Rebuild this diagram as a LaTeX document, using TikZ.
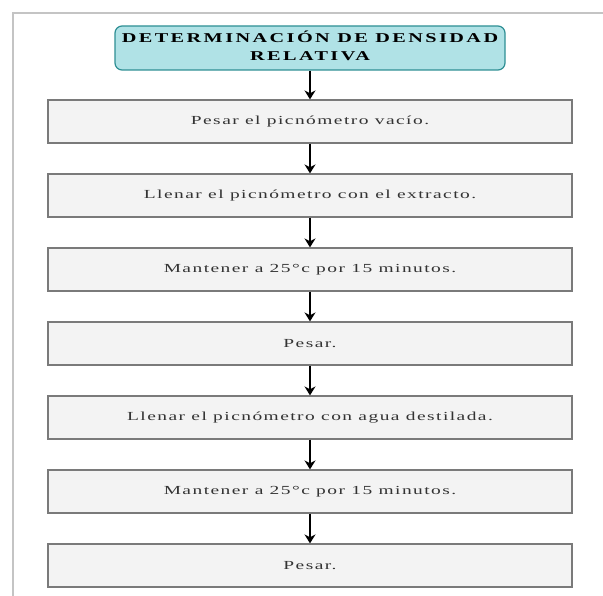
\documentclass[tikz,border=0pt]{standalone}
\usepackage{fontspec}
\usepackage{graphicx}
\setmainfont{Liberation Serif}
\newfontfamily\bodyfont[LetterSpace=7.5]{Liberation Serif}
\newfontfamily\titlefont[LetterSpace=12]{Liberation Serif}
\newcommand\widetext[2]{\scalebox{#1}[1]{#2}}
\usetikzlibrary{arrows.meta}
\definecolor{framegray}{HTML}{C4C4C4}
\definecolor{boxfill}{HTML}{F3F3F3}
\definecolor{boxline}{HTML}{7A7A7A}
\definecolor{titlefill}{HTML}{B0E2E6}
\definecolor{titleline}{HTML}{2E8F94}
\definecolor{bodytext}{HTML}{333333}
\tikzset{
  x=1pt, y=1pt,
  stepbox/.style={draw=boxline, fill=boxfill, line width=1.2pt, minimum width=524pt, minimum height=43pt, inner sep=0pt, font=\bodyfont\fontsize{12.3pt}{14pt}\selectfont, text=bodytext},
  titlebox/.style={draw=titleline, fill=titlefill, line width=1.2pt, rounded corners=7pt, minimum width=390pt, minimum height=44pt, inner sep=0pt, align=center, font=\titlefont\bfseries\fontsize{13.5pt}{18pt}\selectfont},
  flow/.style={-{Stealth[length=9pt,width=11pt]}, line width=1.6pt, black}
}
\newcommand\bt[1]{\widetext{1.58}{#1}}
\begin{document}
\begin{tikzpicture}
\useasboundingbox (0,0) rectangle (603,-596);
\draw[framegray, line width=2pt] (12.5,-596) -- (12.5,-13) -- (603,-13);
\node[titlebox] (t) at (310,-48) {\widetext{1.5}{\begin{tabular}{@{}c@{}}DETERMINACIÓN DE DENSIDAD\\RELATIVA\end{tabular}}};
\node[stepbox] (s1) at (310,-121.5) {\bt{Pesar el picnómetro vacío.}};
\node[stepbox] (s2) at (310,-195.5) {\bt{Llenar el picnómetro con el extracto.}};
\node[stepbox] (s3) at (310,-269.5) {\bt{Mantener a 25°c por 15 minutos.}};
\node[stepbox] (s4) at (310,-343.5) {\bt{Pesar.}};
\node[stepbox] (s5) at (310,-417.5) {\bt{Llenar el picnómetro con agua destilada.}};
\node[stepbox] (s6) at (310,-491.5) {\bt{Mantener a 25°c por 15 minutos.}};
\node[stepbox] (s7) at (310,-565.5) {\bt{Pesar.}};
\draw[flow] (t) -- (s1);
\draw[flow] (s1) -- (s2);
\draw[flow] (s2) -- (s3);
\draw[flow] (s3) -- (s4);
\draw[flow] (s4) -- (s5);
\draw[flow] (s5) -- (s6);
\draw[flow] (s6) -- (s7);
\end{tikzpicture}
\end{document}
